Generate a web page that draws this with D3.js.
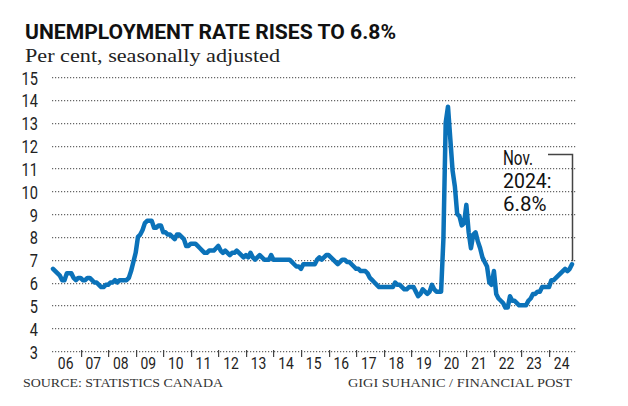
<!DOCTYPE html>
<html>
<head>
<meta charset="utf-8">
<script src="https://cdn.jsdelivr.net/npm/d3@7"></script>
</head>
<body style="margin:0">
<div id="chart"></div>
<script>
// ---- Data (monthly, seasonally adjusted unemployment rate, per cent) ----
const rate2006 = [6.6, 6.5, 6.4, 6.3, 6.1, 6.1, 6.4, 6.4, 6.4, 6.2, 6.1, 6.2];
const rate2007 = [6.2, 6.1, 6.1, 6.2, 6.2, 6.1, 6.0, 6.0, 5.9, 5.8, 5.8, 5.9];
const rate2008 = [5.9, 6.0, 6.0, 6.1, 6.0, 6.1, 6.1, 6.1, 6.1, 6.2, 6.5, 6.9];
const rate2009 = [7.3, 8.0, 8.1, 8.3, 8.6, 8.7, 8.7, 8.7, 8.4, 8.4, 8.5, 8.5];
const rate2010 = [8.2, 8.2, 8.1, 8.1, 8.0, 7.9, 8.1, 8.1, 8.0, 7.9, 7.6, 7.6];
const rate2011 = [7.7, 7.7, 7.7, 7.6, 7.5, 7.4, 7.3, 7.3, 7.4, 7.4, 7.4, 7.5];
const rate2012 = [7.6, 7.4, 7.3, 7.4, 7.3, 7.2, 7.3, 7.3, 7.4, 7.3, 7.2, 7.1];
const rate2013 = [7.2, 7.1, 7.3, 7.1, 7.0, 7.1, 7.2, 7.1, 7.0, 7.0, 7.0, 7.2];
const rate2014 = [7.0, 7.0, 7.0, 7.0, 7.0, 7.0, 7.0, 7.0, 6.9, 6.8, 6.7, 6.7];
const rate2015 = [6.6, 6.8, 6.8, 6.8, 6.8, 6.8, 6.8, 7.0, 7.1, 7.0, 7.1, 7.2];
const rate2016 = [7.2, 7.1, 7.0, 6.9, 6.8, 6.9, 7.0, 7.0, 6.9, 6.9, 6.8, 6.7];
const rate2017 = [6.6, 6.6, 6.5, 6.5, 6.5, 6.4, 6.2, 6.1, 6.0, 5.9, 5.8, 5.8];
const rate2018 = [5.8, 5.8, 5.8, 5.8, 5.8, 6.0, 5.9, 5.9, 5.8, 5.7, 5.7, 5.8];
const rate2019 = [5.8, 5.8, 5.6, 5.4, 5.5, 5.7, 5.6, 5.5, 5.6, 5.9, 5.7, 5.6];
const rate2020 = [5.6, 5.6, 7.9, 13.0, 13.7, 12.3, 10.9, 10.2, 9.0, 8.9, 8.5, 8.6];
const rate2021 = [9.4, 8.2, 7.5, 8.1, 8.2, 7.8, 7.5, 7.1, 6.9, 6.7, 6.0, 5.9];
const rate2022 = [6.5, 5.5, 5.3, 5.2, 5.1, 4.9, 4.9, 5.4, 5.2, 5.2, 5.1, 5.0];
const rate2023 = [5.0, 5.0, 5.0, 5.2, 5.3, 5.5, 5.5, 5.6, 5.6, 5.8, 5.8, 5.8];
const rate2024 = [5.8, 6.1, 6.1, 6.2, 6.3, 6.4, 6.5, 6.6, 6.5, 6.6, 6.8];

const yearLabels = ["06","07","08","09","10","11","12","13","14","15","16","17","18","19","20","21","22","23","24"];
const yTickValues = [3,4,5,6,7,8,9,10,11,12,13,14,15];

const titleText = "UNEMPLOYMENT RATE RISES TO 6.8%";
const subtitleText = "Per cent, seasonally adjusted";
const sourceText = "SOURCE: STATISTICS CANADA";
const creditText = "GIGI SUHANIC / FINANCIAL POST";
const noteLines = ["Nov.", "2024:", "6.8%"];

// ---- Build series ----
const allYears = [rate2006, rate2007, rate2008, rate2009, rate2010, rate2011, rate2012,
  rate2013, rate2014, rate2015, rate2016, rate2017, rate2018, rate2019, rate2020,
  rate2021, rate2022, rate2023, rate2024];
const series = [];
allYears.forEach((arr, yi) => arr.forEach((v, m) => series.push({ i: yi * 12 + m, v })));

// ---- Layout ----
const svg = d3.select("#chart").append("svg").attr("width", 628).attr("height", 406);

const x = d3.scaleLinear().domain([0, series.length - 1]).range([53, 572]);
const y = d3.scaleLinear().domain([3, 15]).range([351, 77]);

const sans = "Roboto, 'Liberation Sans', Arial, sans-serif";
const serif = "'Liberation Serif', 'DejaVu Serif', serif";

function fitWidth(sel, w) {
  sel.attr("textLength", w).attr("lengthAdjust", "spacingAndGlyphs");
}
function condenseTo(sel, perChar) {
  sel.each(function (d) {
    const n = String(d).length;
    d3.select(this).attr("textLength", n * perChar).attr("lengthAdjust", "spacingAndGlyphs");
  });
}

// Title & subtitle
svg.append("text").attr("x", 25).attr("y", 38.5)
  .attr("font-family", sans).attr("font-weight", 700).attr("font-size", 19.5)
  .attr("fill", "#111").text(titleText).call(fitWidth, 371);

svg.append("text").attr("x", 25).attr("y", 62)
  .attr("font-family", serif).attr("font-size", 18.5)
  .attr("fill", "#222").text(subtitleText).call(fitWidth, 255);

// Y labels
svg.append("g").selectAll("text").data(yTickValues).join("text")
  .attr("x", 38).attr("y", d => y(d) + 7.5).attr("text-anchor", "end")
  .attr("font-family", sans).attr("font-size", 18).attr("fill", "#222")
  .text(d => d).call(condenseTo, 8.2);

// X labels mid-year
svg.append("g").selectAll("text").data(yearLabels).join("text")
  .attr("x", (d, k) => x(k * 12 + 5.5)).attr("y", 368.5)
  .attr("text-anchor", "middle")
  .attr("font-family", sans).attr("font-size", 17).attr("fill", "#222")
  .text(d => d).call(condenseTo, 7.8);

// Dotted gridlines: filled dots in one path
const gridPath = d3.path();
yTickValues.forEach(v => {
  const yy = Math.round(y(v));
  for (let xx = 52; xx <= 575; xx += 3) {
    gridPath.rect(xx, yy, 1.2, 1.2);
  }
});
svg.append("path").attr("d", gridPath.toString())
  .attr("fill", "#666").attr("stroke", "none");

// Year ticks at January (filled thin rects)
const yearStarts = d3.range(1, yearLabels.length).map(k => k * 12);
const tickPath = d3.path();
yearStarts.forEach(i => tickPath.rect(Math.round(x(i)), 350, 1.2, 7));
svg.append("path").attr("d", tickPath.toString())
  .attr("fill", "#444").attr("stroke", "none");

// Line
const line = d3.line().x(d => x(d.i)).y(d => y(d.v));
svg.append("path").datum(series)
  .attr("d", line).attr("fill", "none")
  .attr("stroke", "#0b72b9").attr("stroke-width", 4.5)
  .attr("stroke-linejoin", "round").attr("stroke-linecap", "round");

// Annotation
const last = series[series.length - 1];
const noteWidths = [30, 48.5, 43.5];
svg.append("g").selectAll("text").data(noteLines).join("text")
  .attr("x", 503).attr("y", (d, k) => 165 + k * 22.8)
  .attr("font-family", sans).attr("font-size", 21).attr("fill", "#111")
  .text(d => d)
  .each(function (d, k) { d3.select(this).call(fitWidth, noteWidths[k]); });

svg.append("path")
  .attr("d", `M548,154.5 H${x(last.i) + 0.5} V${y(last.v) - 3}`)
  .attr("fill", "none").attr("stroke", "#444").attr("stroke-width", 1.5);

// Footer
svg.append("text").attr("x", 23).attr("y", 387)
  .attr("font-family", serif).attr("font-size", 13).attr("fill", "#333")
  .text(sourceText).call(fitWidth, 200);
svg.append("text").attr("x", 572).attr("y", 387).attr("text-anchor", "end")
  .attr("font-family", serif).attr("font-size", 13).attr("fill", "#333")
  .text(creditText).call(fitWidth, 224);
</script>
</body>
</html>
